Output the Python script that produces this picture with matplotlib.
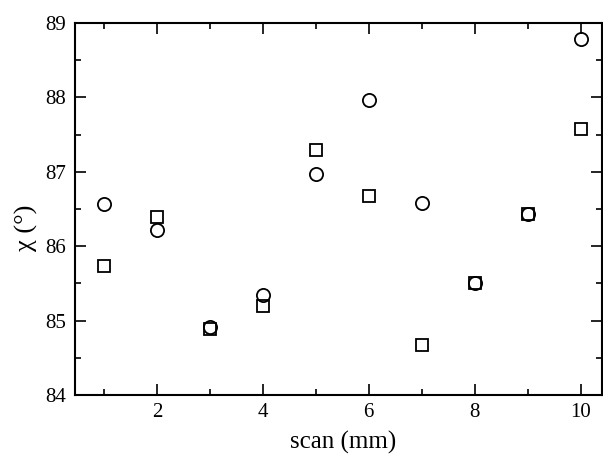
import matplotlib
matplotlib.use('Agg')
import matplotlib.pyplot as plt
from matplotlib.ticker import MultipleLocator

# scan positions (mm) and chi values (deg)
scan = [1, 2, 3, 4, 5, 6, 7, 8, 9, 10]
chi_circle = [86.57, 86.22, 84.91, 85.34, 86.97, 87.97, 86.58, 85.51, 86.44, 88.79]
chi_square = [85.73, 86.40, 84.89, 85.20, 87.29, 86.68, 84.67, 85.51, 86.44, 87.58]

plt.rcParams['font.family'] = ['Liberation Serif', 'DejaVu Serif']

fig = plt.figure(figsize=(6.03, 4.61), dpi=100)
ax = fig.add_axes([0.124, 0.143, 0.874, 0.807])

ax.plot(scan, chi_square, 's', ms=8.5, mfc='white', mec='black', mew=1.3, ls='none')
ax.plot(scan, chi_circle, 'o', ms=9.5, mfc='none', mec='black', mew=1.3, ls='none')

ax.set_xlim(0.45, 10.4)
ax.set_ylim(84, 89)
ax.xaxis.set_major_locator(MultipleLocator(2))
ax.xaxis.set_minor_locator(MultipleLocator(1))
ax.yaxis.set_major_locator(MultipleLocator(1))
ax.yaxis.set_minor_locator(MultipleLocator(0.5))

ax.tick_params(which='both', direction='in', top=True, right=True, labelsize=15, width=1.2)
ax.tick_params(which='major', length=8)
ax.tick_params(which='minor', length=4)
ax.tick_params(axis='x', pad=6)
ax.tick_params(axis='y', pad=6)
for s in ax.spines.values():
    s.set_linewidth(1.5)

ax.set_xlabel('scan (mm)', fontsize=18, labelpad=5)
ax.xaxis.set_label_coords(0.51, -0.095)
ax.set_ylabel('χ (°)', fontsize=19)
ax.yaxis.set_label_coords(-0.07, 0.45)

fig.savefig('out.png', dpi=100)
